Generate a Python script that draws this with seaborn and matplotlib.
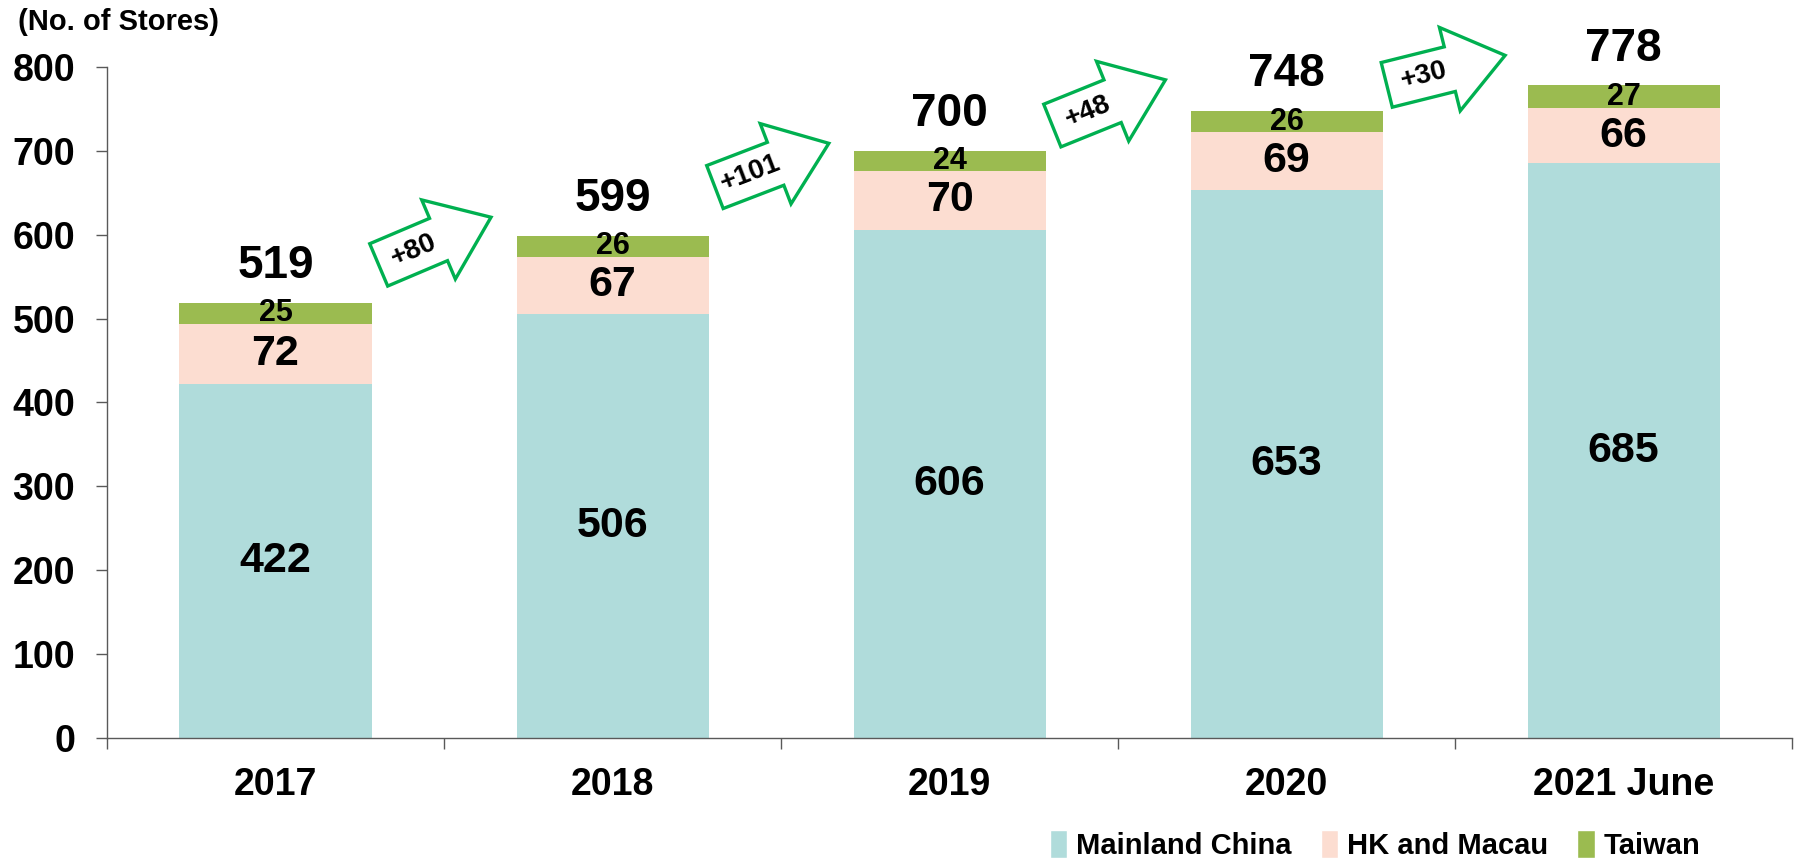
import numpy as np
import pandas as pd
import seaborn as sns
import matplotlib.pyplot as plt
import matplotlib.transforms as mtransforms
from matplotlib.patches import Polygon, Patch

years = ["2017", "2018", "2019", "2020", "2021 June"]
mainland = [422, 506, 606, 653, 685]
hk_macau = [72, 67, 70, 69, 66]
taiwan = [25, 26, 24, 26, 27]
growth = ["+80", "+101", "+48", "+30"]
arrow_angles = [23, 21, 22, 14]

c_main = "#B0DCDB"
c_hk = "#FCDDD1"
c_tw = "#9BBB50"
c_arrow = "#00B050"

sns.set_style("white")
plt.rcParams["font.family"] = ["Liberation Sans", "DejaVu Sans"]
plt.rcParams["font.weight"] = "bold"
plt.rcParams["text.color"] = "black"
plt.rcParams["xtick.labelcolor"] = "black"
plt.rcParams["ytick.labelcolor"] = "black"

df = pd.DataFrame({"year": years, "mainland": mainland, "hk": hk_macau, "tw": taiwan})
df["mid"] = df["mainland"] + df["hk"]
df["total"] = df["mid"] + df["tw"]

fig = plt.figure(figsize=(18.02, 8.58), dpi=100)
ax = fig.add_axes([0.0594, 0.1399, 0.9351, 0.782])

# stacked by overdrawing cumulative heights
for col, c in [("total", c_tw), ("mid", c_hk), ("mainland", c_main)]:
    sns.barplot(data=df, x="year", y=col, color=c, saturation=1, width=0.57, ax=ax, linewidth=0)

ax.set_xlim(-0.5, len(years) - 0.5)
ax.set_ylim(0, 800)
ax.set_yticks(range(0, 801, 100))
ax.set_xlabel("")
ax.set_ylabel("")

for s in ["top", "right"]:
    ax.spines[s].set_visible(False)
for s in ["left", "bottom"]:
    ax.spines[s].set_color("#595959")
    ax.spines[s].set_linewidth(1.0)

ax.tick_params(axis="y", left=True, length=8, width=1, color="#595959", pad=15, labelsize=27)
ax.tick_params(axis="x", bottom=False, length=0, pad=21, labelsize=27)
ax.set_xticks(np.arange(-0.5, len(years)), minor=True)
ax.tick_params(axis="x", which="minor", bottom=True, length=8, width=1, color="#595959")
for lab in ax.get_xticklabels() + ax.get_yticklabels():
    lab.set_fontweight("bold")

for i, r in df.iterrows():
    ax.text(i, r["mainland"] / 2, f"{r['mainland']}", ha="center", va="center", fontsize=31, fontweight="bold")
    ax.text(i, r["mainland"] + r["hk"] / 2, f"{r['hk']}", ha="center", va="center", fontsize=31, fontweight="bold")
    ax.text(i, r["mid"] + r["tw"] / 2, f"{r['tw']}", ha="center", va="center", fontsize=22, fontweight="bold")
    ax.text(i, r["total"] + 44, f"{r['total']}", ha="center", va="center", fontsize=33, fontweight="bold")

# growth arrows between bars
shape = np.array([(-60, -23), (5, -23), (5, -43), (62, 0), (5, 43), (5, 23), (-60, 23)], dtype=float)
totals = df["total"].tolist()
for i, (g, ang) in enumerate(zip(growth, arrow_angles)):
    x = i + 0.47
    y = (totals[i] + totals[i + 1]) / 2 + 33
    tr = (mtransforms.Affine2D().rotate_deg(ang).scale(1 / 100)
          + fig.dpi_scale_trans + mtransforms.ScaledTranslation(x, y, ax.transData))
    poly = Polygon(shape, closed=True, facecolor="white", edgecolor=c_arrow, linewidth=2.4,
                   transform=tr, clip_on=False, joinstyle="miter", zorder=5)
    ax.add_artist(poly)
    a = np.deg2rad(ang)
    off = -22
    ax.annotate(g, xy=(x, y), xytext=(off * np.cos(a) * 0.72, off * np.sin(a) * 0.72),
                textcoords="offset points", rotation=ang, rotation_mode="anchor",
                ha="center", va="center", fontsize=20, fontweight="bold", zorder=10)

fig.text(0.01, 1 - 22 / 858, "(No. of Stores)", ha="left", va="center", fontsize=21, fontweight="bold")

handles = [Patch(facecolor=c_main), Patch(facecolor=c_hk), Patch(facecolor=c_tw)]
fig.legend(handles, ["Mainland China", "HK and Macau", "Taiwan"], loc="lower right",
           bbox_to_anchor=(0.958, -0.033), ncol=3, frameon=False,
           handlelength=0.6, handleheight=1.1, handletextpad=0.3, columnspacing=1.0,
           prop={"weight": "bold", "size": 21})

fig.savefig("out.png", dpi=100)
